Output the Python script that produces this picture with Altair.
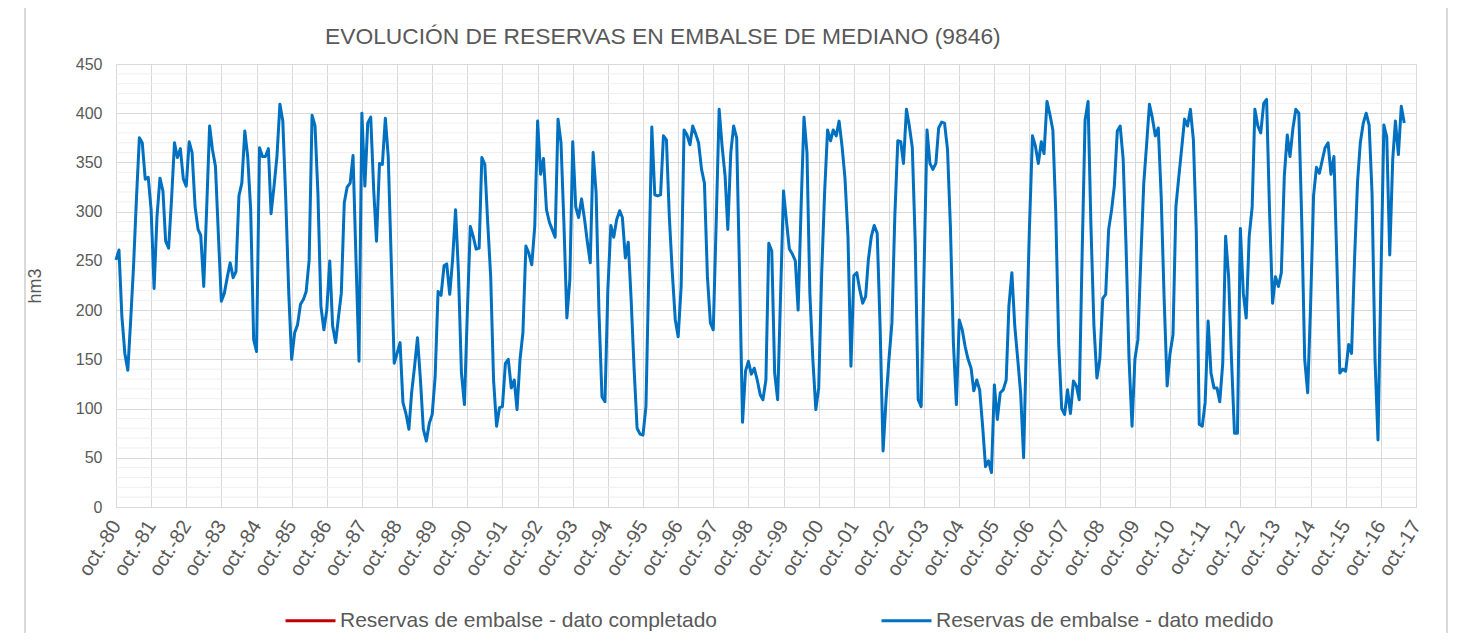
import altair as alt
import pandas as pd

# ---- data (monthly reserves, hm3, starting oct-1980) ----
reservas = [
    251, 261, 194, 156, 139, 187, 244, 312, 375, 370, 333, 335,
    302, 222, 295, 334, 321, 270, 263, 312, 370, 355, 364, 333,
    326, 371, 360, 305, 282, 276, 224, 302, 387, 363, 346, 275,
    209, 217, 233, 248, 233, 239, 316, 329, 382, 356, 302, 170,
    158, 365, 356, 356, 364, 298, 326, 356, 409, 392, 312, 217,
    150, 177, 185, 206, 211, 219, 251, 398, 387, 319, 204, 180,
    200, 250, 184, 167, 194, 217, 309, 325, 329, 357, 251, 148,
    400, 326, 390, 396, 322, 270, 349, 348, 395, 356, 251, 146,
    156, 167, 106, 95, 79, 116, 143, 172, 129, 79, 67, 85,
    94, 133, 219, 215, 245, 247, 216, 251, 302, 238, 136, 104,
    197, 285, 275, 262, 263, 355, 348, 289, 234, 129, 82, 101,
    102, 146, 150, 121, 129, 99, 150, 177, 265, 258, 246, 285,
    392, 338, 354, 302, 289, 282, 274, 394, 370, 289, 192, 231,
    371, 305, 294, 313, 292, 270, 248, 360, 319, 197, 112, 107,
    221, 286, 274, 292, 301, 294, 253, 269, 209, 140, 80, 74,
    73, 102, 240, 386, 317, 316, 317, 377, 373, 295, 238, 190,
    173, 224, 383, 378, 368, 387, 379, 370, 343, 329, 234, 187,
    180, 292, 404, 366, 336, 282, 360, 387, 375, 238, 86, 138,
    148, 135, 141, 129, 114, 109, 129, 268, 260, 136, 109, 217,
    321, 290, 262, 257, 250, 200, 305, 396, 360, 217, 150, 99,
    121, 238, 319, 383, 372, 383, 377, 392, 366, 334, 275, 143,
    235, 238, 221, 207, 214, 251, 275, 286, 278, 184, 57, 109,
    150, 187, 295, 372, 371, 349, 404, 387, 365, 270, 109, 102,
    240, 383, 349, 343, 349, 385, 391, 390, 363, 285, 167, 104,
    190, 180, 163, 150, 141, 118, 129, 119, 82, 41, 47, 35,
    124, 89, 116, 119, 129, 204, 238, 184, 150, 116, 50, 177,
    285, 377, 367, 349, 371, 359, 412, 399, 383, 300, 165, 100,
    94, 119, 95, 128, 123, 109, 260, 393, 412, 285, 184, 131,
    150, 212, 216, 282, 302, 326, 382, 387, 353, 265, 150, 82,
    150, 170, 251, 329, 370, 409, 395, 377, 385, 316, 211, 123,
    156, 175, 305, 336, 366, 394, 387, 404, 373, 280, 84, 82,
    106, 189, 136, 121, 121, 107, 146, 275, 234, 150, 75, 75,
    283, 217, 192, 275, 305, 404, 387, 380, 410, 414, 299, 207,
    234, 224, 238, 336, 378, 356, 385, 404, 400, 292, 150, 116,
    204, 316, 345, 339, 353, 365, 370, 338, 356, 250, 136, 140,
    138, 165, 156, 251, 330, 370, 390, 400, 388, 319, 150, 68,
    230, 388, 376, 256, 353, 392, 358, 407, 390,
]
first_month = "1980-10-01"
tick_years = list(range(1980, 2018))
y_ticks = [0, 50, 100, 150, 200, 250, 300, 350, 400, 450]
minor_ticks = [v for v in range(10, 450, 10) if v % 50 != 0]
series_names = ["Reservas de embalse - dato completado", "Reservas de embalse - dato medido"]
series_colors = ["#C00000", "#0070C0"]
title_text = "EVOLUCIÓN DE RESERVAS EN EMBALSE DE MEDIANO (9846)"

FONT = "Liberation Sans"
GREY = "#595959"
GRID = "#d9d9d9"

fechas = pd.date_range(first_month, periods=len(reservas), freq="MS")
df = pd.DataFrame({"fecha": fechas.strftime("%Y-%m-%d"), "reservas": reservas, "serie": series_names[1]})
minor_df = pd.DataFrame({"v": minor_ticks})

W, H = 1300, 443

x_enc = alt.X(
    "fecha:T",
    scale=alt.Scale(domain=[alt.DateTime(year=tick_years[0], month=10, date=1),
                            alt.DateTime(year=tick_years[-1], month=10, date=1)]),
    axis=alt.Axis(
        values=[alt.DateTime(year=y, month=10, date=1) for y in tick_years],
        labelExpr="'oct.-' + timeFormat(datum.value, '%y')",
        labelAngle=-58, labelOverlap=False, labelFlush=False,
        labelAlign="right", labelBaseline="middle",
        labelFontSize=20, labelFont=FONT, labelColor=GREY, labelPadding=15,
        ticks=False, domainColor=GRID, gridColor=GRID, grid=True, title=None,
    ),
)
y_enc = alt.Y(
    "reservas:Q",
    scale=alt.Scale(domain=[0, 450], nice=False),
    axis=alt.Axis(
        values=y_ticks, domain=False, ticks=False, grid=True, gridColor=GRID,
        labelFontSize=16, labelFont=FONT, labelColor=GREY, labelPadding=14,
        title="hm3", titleFont=FONT, titleFontSize=18, titleFontWeight="normal",
        titleColor=GREY, titleX=-81, titleY=H / 2, titleAngle=270,
        titleAlign="center", titleBaseline="middle",
    ),
)

minor = alt.Chart(minor_df).mark_rule(color="#efefef", strokeWidth=1).encode(
    y=alt.Y("v:Q", scale=alt.Scale(domain=[0, 450], nice=False))
)

line = alt.Chart(df).mark_line(strokeWidth=3, strokeJoin="round").encode(
    x=x_enc,
    y=y_enc,
    color=alt.Color(
        "serie:N",
        scale=alt.Scale(domain=series_names, range=series_colors),
        legend=alt.Legend(
            orient="none", legendX=168, legendY=530, direction="horizontal",
            title=None, symbolType="stroke", symbolSize=2500, symbolStrokeWidth=3,
            labelFontSize=21, labelFont=FONT, labelColor=GREY, labelLimit=800,
            labelOffset=3, columnPadding=157,
        ),
    ),
)

frame_left = alt.Chart(minor_df).mark_rule(color=GRID, strokeWidth=1.5).encode(
    x=alt.value(-91), y=alt.value(-60), y2=alt.value(H + 130)
)
frame_right = alt.Chart(minor_df).mark_rule(color=GRID, strokeWidth=1.5).encode(
    x=alt.value(1331), y=alt.value(-60), y2=alt.value(H + 130)
)

chart = alt.layer(minor, line, frame_left, frame_right).properties(
    width=W, height=H,
    title=alt.TitleParams(
        text=title_text, anchor="start", frame="group", dx=209, dy=64, offset=0,
        fontSize=22.8, font=FONT, color=GREY, fontWeight="normal", baseline="alphabetic",
    ),
    autosize=alt.AutoSizeParams(type="none"),
    padding={"left": 108, "top": 56, "right": 35, "bottom": 126},
).configure_view(stroke=GRID).configure(background="white")

chart.save("out.html", embed_options={"renderer": "svg", "actions": False})
